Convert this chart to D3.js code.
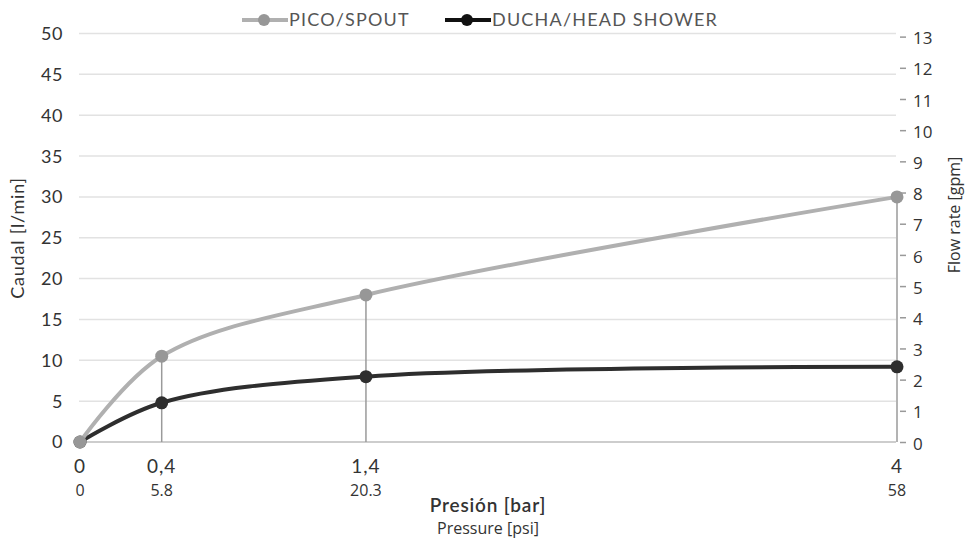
<!DOCTYPE html>
<html>
<head>
<meta charset="utf-8">
<script src="https://cdn.jsdelivr.net/npm/d3@7"></script>
<style>
  body { margin: 0; background: #fff; }
  svg { display: block; }
</style>
</head>
<body>
<svg id="chart"></svg>
<script>
// pressure in bar, and the matching psi labels
const pressureBar = [0, 0.4, 1.4, 4];
const barLabels = ["0", "0,4", "1,4", "4"];
const psiLabels = ["0", "5.8", "20.3", "58"];
// flow rate in l/min
const spout = [0, 10.5, 18, 30];
const shower = [0, 4.8, 8, 9.2];
const leftTicks = d3.range(0, 51, 5);
const rightTicks = d3.range(0, 14, 1);

const width = 969, height = 538;
const svg = d3.select("#chart").attr("width", width).attr("height", height);
const mainFont = "Lato, 'Noto Sans', sans-serif";
const subFont = "'Open Sans', 'Noto Sans', sans-serif";

const x = d3.scaleLinear().domain([0, 4]).range([80, 897]);
const y = d3.scaleLinear().domain([0, 50]).range([442, 33.5]);
const yR = d3.scaleLinear().domain([0, 13.1]).range([442, 33.5]);

// gridlines
svg.append("g").selectAll("line")
  .data(leftTicks.filter(d => d > 0))
  .enter().append("line")
    .attr("x1", 79).attr("x2", 896)
    .attr("y1", d => y(d)).attr("y2", d => y(d))
    .attr("stroke", "#e2e2e2").attr("stroke-width", 1.5);

// baseline
svg.append("line")
  .attr("x1", 79).attr("x2", 896)
  .attr("y1", y(0)).attr("y2", y(0))
  .attr("stroke", "#bcbcbc").attr("stroke-width", 1.5);

// left axis labels
svg.append("g").selectAll("text")
  .data(leftTicks)
  .enter().append("text")
    .attr("x", 63).attr("y", d => y(d)).attr("dy", "0.36em")
    .attr("text-anchor", "end")
    .attr("font-family", mainFont).attr("font-size", 18).attr("letter-spacing", 0.5).attr("fill", "#333")
    .text(d => d);

// right axis
const rAxis = svg.append("g").attr("transform", "translate(896,0)")
  .call(d3.axisRight(yR).tickValues(rightTicks).tickSize(0).tickPadding(0));
rAxis.select(".domain").remove();
rAxis.selectAll(".tick line")
  .attr("x1", 4).attr("x2", 10).attr("stroke", "#999").attr("stroke-width", 1.5);
rAxis.selectAll(".tick text")
  .attr("x", 17).attr("dy", "0.42em")
  .attr("font-family", subFont).attr("font-size", 17).attr("fill", "#333");

// drop lines from the upper point down to the baseline
svg.append("g").selectAll("line")
  .data(pressureBar.slice(1))
  .enter().append("line")
    .attr("x1", d => x(d)).attr("x2", d => x(d))
    .attr("y1", (d, i) => y(spout[i + 1])).attr("y2", y(0))
    .attr("stroke", "#9a9a9a").attr("stroke-width", 1.5);

// x tick labels
svg.append("g").selectAll("text")
  .data(barLabels)
  .enter().append("text")
    .attr("x", (d, i) => x(pressureBar[i])).attr("y", 473)
    .attr("text-anchor", "middle")
    .attr("font-family", mainFont).attr("font-size", 19).attr("letter-spacing", 1).attr("fill", "#333")
    .text(d => d);
svg.append("g").selectAll("text")
  .data(psiLabels)
  .enter().append("text")
    .attr("x", (d, i) => x(pressureBar[i])).attr("y", 496)
    .attr("text-anchor", "middle")
    .attr("font-family", subFont).attr("font-size", 16).attr("fill", "#333")
    .text(d => d);

// axis titles
svg.append("text").attr("x", 488).attr("y", 512).attr("text-anchor", "middle")
  .attr("font-family", mainFont).attr("font-size", 19).attr("font-weight", 600).attr("letter-spacing", 0.8).attr("fill", "#333")
  .text("Presión [bar]");
svg.append("text").attr("x", 488).attr("y", 534).attr("text-anchor", "middle")
  .attr("font-family", subFont).attr("font-size", 16).attr("fill", "#333")
  .text("Pressure [psi]");
svg.append("text").attr("transform", "translate(24,238) rotate(-90)").attr("text-anchor", "middle")
  .attr("font-family", mainFont).attr("font-size", 18).attr("letter-spacing", 0.8).attr("fill", "#333")
  .text("Caudal [l/min]");
svg.append("text").attr("transform", "translate(960,215) rotate(-90)").attr("text-anchor", "middle")
  .attr("font-family", subFont).attr("font-size", 16).attr("fill", "#333")
  .text("Flow rate [gpm]");

// series
const series = [
  { name: "DUCHA/HEAD SHOWER", values: shower, line: "#2e2e2e", dot: "#2e2e2e" },
  { name: "PICO/SPOUT", values: spout, line: "#b0b0b0", dot: "#979797" }
];
const line = d3.line()
  .x((d, i) => x(pressureBar[i]))
  .y(d => y(d))
  .curve(d3.curveCatmullRom.alpha(0.5));

series.forEach(s => {
  svg.append("path")
    .datum(s.values)
    .attr("fill", "none")
    .attr("stroke", s.line)
    .attr("stroke-width", 4)
    .attr("d", line);
  svg.append("g").selectAll("circle")
    .data(s.values)
    .enter().append("circle")
      .attr("cx", (d, i) => x(pressureBar[i]))
      .attr("cy", d => y(d))
      .attr("r", 6.5)
      .attr("fill", s.dot);
});

// legend
const legendItems = [
  { name: "PICO/SPOUT", x: 242, line: "#b0b0b0", dot: "#979797" },
  { name: "DUCHA/HEAD SHOWER", x: 445, line: "#111", dot: "#111" }
];
const lg = svg.append("g").selectAll("g")
  .data(legendItems)
  .enter().append("g")
    .attr("transform", d => `translate(${d.x},20)`);
lg.append("line").attr("x1", 0).attr("x2", 46)
  .attr("stroke", d => d.line).attr("stroke-width", 4);
lg.append("circle").attr("cx", 22).attr("r", 6).attr("fill", d => d.dot);
lg.append("text").attr("x", 47).attr("dy", "0.36em")
  .attr("font-family", mainFont).attr("font-size", 18).attr("letter-spacing", 1.2).attr("fill", "#555")
  .text(d => d.name);
</script>
</body>
</html>
